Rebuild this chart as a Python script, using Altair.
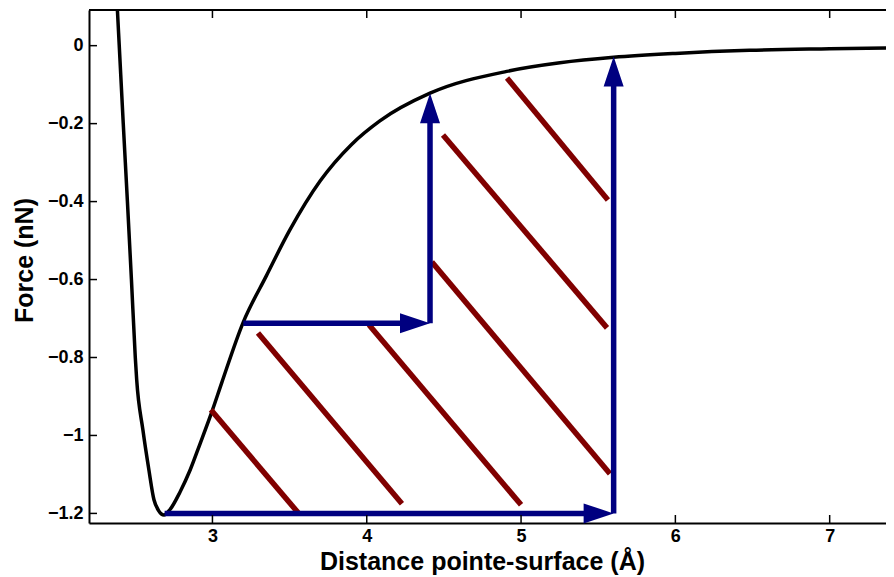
import altair as alt
import pandas as pd

# ---------------- data ----------------
curve_x = [2.371, 2.384, 2.396, 2.422, 2.449, 2.475, 2.500, 2.509, 2.549, 2.588, 2.621,
           2.650, 2.686, 2.725, 2.790, 2.854, 2.919, 3.000, 3.060, 3.198, 3.350, 3.500,
           3.700, 3.900, 4.085, 4.410, 4.907, 5.252, 5.600, 6.000, 6.480, 7.000, 7.500]
curve_f = [0.195, 0.092, 0.000, -0.200, -0.400, -0.600, -0.800, -0.857, -0.985, -1.088, -1.165,
           -1.192, -1.204, -1.190, -1.145, -1.090, -1.022, -0.935, -0.865, -0.711, -0.590, -0.474,
           -0.346, -0.254, -0.193, -0.122, -0.066, -0.044, -0.030, -0.020, -0.012, -0.008, -0.005]

# arrows: start -> tip
arrow_x0 = [2.690, 5.600, 3.200, 4.410]
arrow_y0 = [-1.200, -1.200, -0.712, -0.712]
arrow_x1 = [5.600, 5.600, 4.410, 4.410]
arrow_y1 = [-1.200, -0.028, -0.712, -0.122]

# hatch segments
hatch_x0 = [2.990, 3.295, 4.014, 4.422, 4.494, 4.909]
hatch_y0 = [-0.934, -0.737, -0.716, -0.555, -0.229, -0.083]
hatch_x1 = [3.561, 4.228, 5.000, 5.576, 5.557, 5.563]
hatch_y1 = [-1.201, -1.175, -1.178, -1.098, -0.724, -0.396]

x_ticks = [3, 4, 5, 6, 7]
y_ticks = [0, -0.2, -0.4, -0.6, -0.8, -1.0, -1.2]

x_domain = [2.2, 7.365]
y_domain = [-1.2246, 0.0915]

# ---------------- layout ----------------
W, H = 797, 513
FONT = "Liberation Sans"
NAVY = "#000080"
MAROON = "#800000"
HEAD_LEN = 30  # px

sx = W / (x_domain[1] - x_domain[0])
sy = H / (y_domain[1] - y_domain[0])

rows = []
heads = []
for x0, y0, x1, y1 in zip(arrow_x0, arrow_y0, arrow_x1, arrow_y1):
    dxp = (x1 - x0) * sx
    dyp = (y1 - y0) * sy
    lp = (dxp ** 2 + dyp ** 2) ** 0.5
    k = (HEAD_LEN * 0.8) / lp
    rows.append({"x": x0, "y": y0, "x2": x1 - (x1 - x0) * k, "y2": y1 - (y1 - y0) * k})
    heads.append({"x": x1, "y": y1, "dir": "up" if abs(dyp) > abs(dxp) else "right"})
shafts = pd.DataFrame(rows)
heads = pd.DataFrame(heads)

curve = pd.DataFrame({"d": curve_x, "f": curve_f})
hatch = pd.DataFrame({"x": hatch_x0, "y": hatch_y0, "x2": hatch_x1, "y2": hatch_y1})
xt = pd.DataFrame({"v": x_ticks})
yt = pd.DataFrame({"v": y_ticks})

xscale = alt.Scale(domain=x_domain, nice=False, zero=False)
yscale = alt.Scale(domain=y_domain, nice=False, zero=False)

x_axis = alt.Axis(values=x_ticks, format="d", ticks=False, grid=False,
                  domainColor="black", domainWidth=2, labelPadding=4,
                  labelFont=FONT, labelFontSize=18, labelFontWeight="bold",
                  labelColor="black", labelAngle=0,
                  title="Distance pointe-surface (Å)", titleFont=FONT,
                  titleFontSize=25, titleFontWeight="bold", titleColor="black",
                  titlePadding=4, titleX=393)
y_axis = alt.Axis(values=y_ticks, format="~g", ticks=False, grid=False,
                  domainColor="black", domainWidth=2, labelPadding=6,
                  labelFont=FONT, labelFontSize=18, labelFontWeight="bold",
                  labelColor="black",
                  title="Force (nN)", titleFont=FONT, titleFontSize=25,
                  titleFontWeight="bold", titleColor="black", titlePadding=10,
                  titleY=250)

line = alt.Chart(curve).mark_line(color="black", strokeWidth=3.5, clip=True,
                                  interpolate="monotone").encode(
    x=alt.X("d:Q", scale=xscale, axis=x_axis),
    y=alt.Y("f:Q", scale=yscale, axis=y_axis),
    order="d:Q",
)

hatch_layer = alt.Chart(hatch).mark_rule(color=MAROON, strokeWidth=5.5).encode(
    x="x:Q", y="y:Q", x2="x2:Q", y2="y2:Q")

shaft_layer = alt.Chart(shafts).mark_rule(color=NAVY, strokeWidth=5.5).encode(
    x="x:Q", y="y:Q", x2="x2:Q", y2="y2:Q")

UP = "M0,0L0.667,2L-0.667,2Z"
RIGHT = "M0,0L-2,-0.667L-2,0.667Z"
head_up = alt.Chart(heads).transform_filter(alt.datum.dir == "up").mark_point(
    shape=UP, size=900, filled=True, opacity=1, color=NAVY, strokeWidth=0).encode(
    x="x:Q", y="y:Q")
head_right = alt.Chart(heads).transform_filter(alt.datum.dir == "right").mark_point(
    shape=RIGHT, size=900, filled=True, opacity=1, color=NAVY, strokeWidth=0).encode(
    x="x:Q", y="y:Q")

tick_bottom = alt.Chart(xt).mark_rule(color="black", strokeWidth=1.5).encode(
    x="v:Q", y=alt.value(H), y2=alt.value(H - 8))
tick_top = alt.Chart(xt).mark_rule(color="black", strokeWidth=1.5).encode(
    x="v:Q", y=alt.value(0), y2=alt.value(8))
tick_left = alt.Chart(yt).mark_rule(color="black", strokeWidth=1.5).encode(
    y="v:Q", x=alt.value(0), x2=alt.value(8))
top_line = alt.Chart(xt).mark_rule(color="black", strokeWidth=2).encode(
    x=alt.value(0), x2=alt.value(W), y=alt.value(0))

chart = alt.layer(
    line, hatch_layer, shaft_layer, head_up, head_right,
    tick_bottom, tick_top, tick_left, top_line,
).properties(
    width=W, height=H,
    autosize=alt.AutoSizeParams(type="none"),
    padding={"left": 81, "top": 2, "right": 0, "bottom": 56},
).configure_view(stroke=None).configure(background="white")

chart.save("out.html", embed_options={"renderer": "svg", "actions": False})
